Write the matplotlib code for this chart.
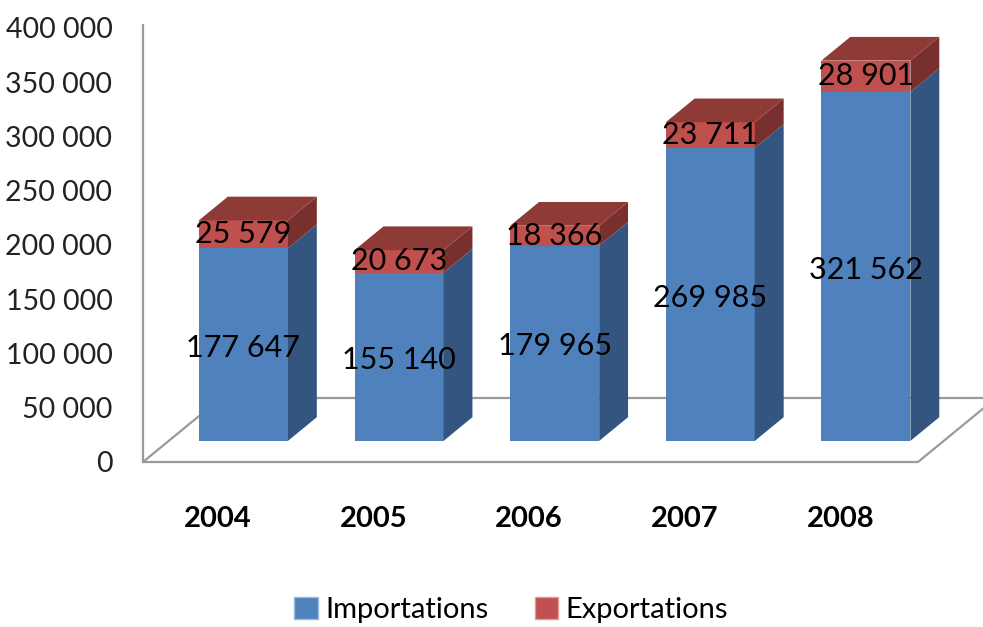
import matplotlib
matplotlib.use("Agg")
import matplotlib.pyplot as plt
import numpy as np
from matplotlib.patches import Patch, Polygon

plt.rcParams["font.family"] = ["Lato", "DejaVu Sans"]

years = ["2004", "2005", "2006", "2007", "2008"]
importations = [177647, 155140, 179965, 269985, 321562]
exportations = [25579, 20673, 18366, 23711, 28901]
y_ticks = [0, 50000, 100000, 150000, 200000, 250000, 300000, 350000, 400000]

BLUE = "#4F81BD"
BLUE_SIDE = "#34557F"
RED = "#C0504D"
RED_TOP = "#8E3A37"
RED_SIDE = "#78302E"
GRID = "#9a9a9a"

# pseudo-3d geometry, in screen pixels
FLOOR_DEPTH = (78, 64)
BAR_FRONT = 0.33   # fraction of floor depth before the bar front face
BAR_DEPTH = 0.37   # fraction of floor depth taken by the bar
BAR_WIDTH = 0.572  # in category units


def fmt(v):
    return f"{v:,}".replace(",", " ")


fig = plt.figure(figsize=(9.83, 6.27), dpi=100)
ax = fig.add_axes([143 / 983, 1 - 462 / 627, 775 / 983, 437.3 / 627])
ax.set_xlim(-0.48, 4.5)
ax.set_ylim(0, 403000)
for s in ["top", "right", "bottom"]:
    ax.spines[s].set_visible(False)
ax.spines["left"].set_color(GRID)
ax.spines["left"].set_linewidth(1.6)

x = np.arange(len(years))


def px(dx, dy):
    # convert a pixel offset into data units
    inv = ax.transData.inverted()
    x0, y0 = inv.transform(ax.transData.transform((0, 0)))
    x1, y1 = inv.transform(ax.transData.transform((0, 0)) + np.array([dx, dy]))
    return x1 - x0, y1 - y0


fdx, fdy = px(*FLOOR_DEPTH)
ox, oy = fdx * BAR_FRONT, fdy * BAR_FRONT
bx, by = fdx * BAR_DEPTH, fdy * BAR_DEPTH

# floor
x0, x1 = ax.get_xlim()
floor = Polygon([(x0, 0), (x1, 0), (x1 + fdx, fdy), (x0 + fdx, fdy)],
                closed=True, facecolor="white", edgecolor=GRID, lw=1.6,
                clip_on=False, zorder=1)
ax.add_patch(floor)

# bars
ax.bar(x + ox, importations, BAR_WIDTH, bottom=oy, color=BLUE, zorder=3,
       clip_on=False)
ax.bar(x + ox, exportations, BAR_WIDTH, bottom=oy + np.array(importations),
       color=RED, zorder=3, clip_on=False)

for xi, imp, exp in zip(x, importations, exportations):
    r = xi + ox + BAR_WIDTH / 2
    l = xi + ox - BAR_WIDTH / 2
    y1 = oy + imp
    y2 = y1 + exp
    side_b = Polygon([(r, oy), (r + bx, oy + by), (r + bx, y1 + by), (r, y1)],
                     facecolor=BLUE_SIDE, edgecolor="none", zorder=3, clip_on=False)
    side_r = Polygon([(r, y1), (r + bx, y1 + by), (r + bx, y2 + by), (r, y2)],
                     facecolor=RED_SIDE, edgecolor="none", zorder=3, clip_on=False)
    top = Polygon([(l, y2), (r, y2), (r + bx, y2 + by), (l + bx, y2 + by)],
                  facecolor=RED_TOP, edgecolor="none", zorder=3, clip_on=False)
    for p in (side_b, side_r, top):
        ax.add_patch(p)
    ax.text(xi + ox, oy + imp / 2 - 3000, fmt(imp), ha="center", va="center",
            fontsize=22, color="black", zorder=5)
    ax.text(xi + ox, y1 + exp / 2, fmt(exp), ha="center", va="center",
            fontsize=22, color="black", zorder=5)

ax.set_yticks(y_ticks)
ax.set_yticklabels([fmt(v) for v in y_ticks], fontsize=20.5, color="#222222")
ax.set_xticks(x)
ax.set_xticklabels(years, fontsize=21, fontweight="bold")
ax.tick_params(axis="y", length=0, pad=22)
ax.tick_params(axis="x", length=0, pad=32)

handles = [Patch(facecolor=BLUE, edgecolor="#9db9dd", label="Importations"),
           Patch(facecolor=RED, edgecolor="#dd9b99", label="Exportations")]
fig.legend(handles=handles, loc="center", bbox_to_anchor=(0.52, 0.027),
           ncol=2, frameon=False, fontsize=21, handlelength=0.8,
           handleheight=0.8, handletextpad=0.25, columnspacing=1.6)

fig.savefig("out.png", dpi=100)
